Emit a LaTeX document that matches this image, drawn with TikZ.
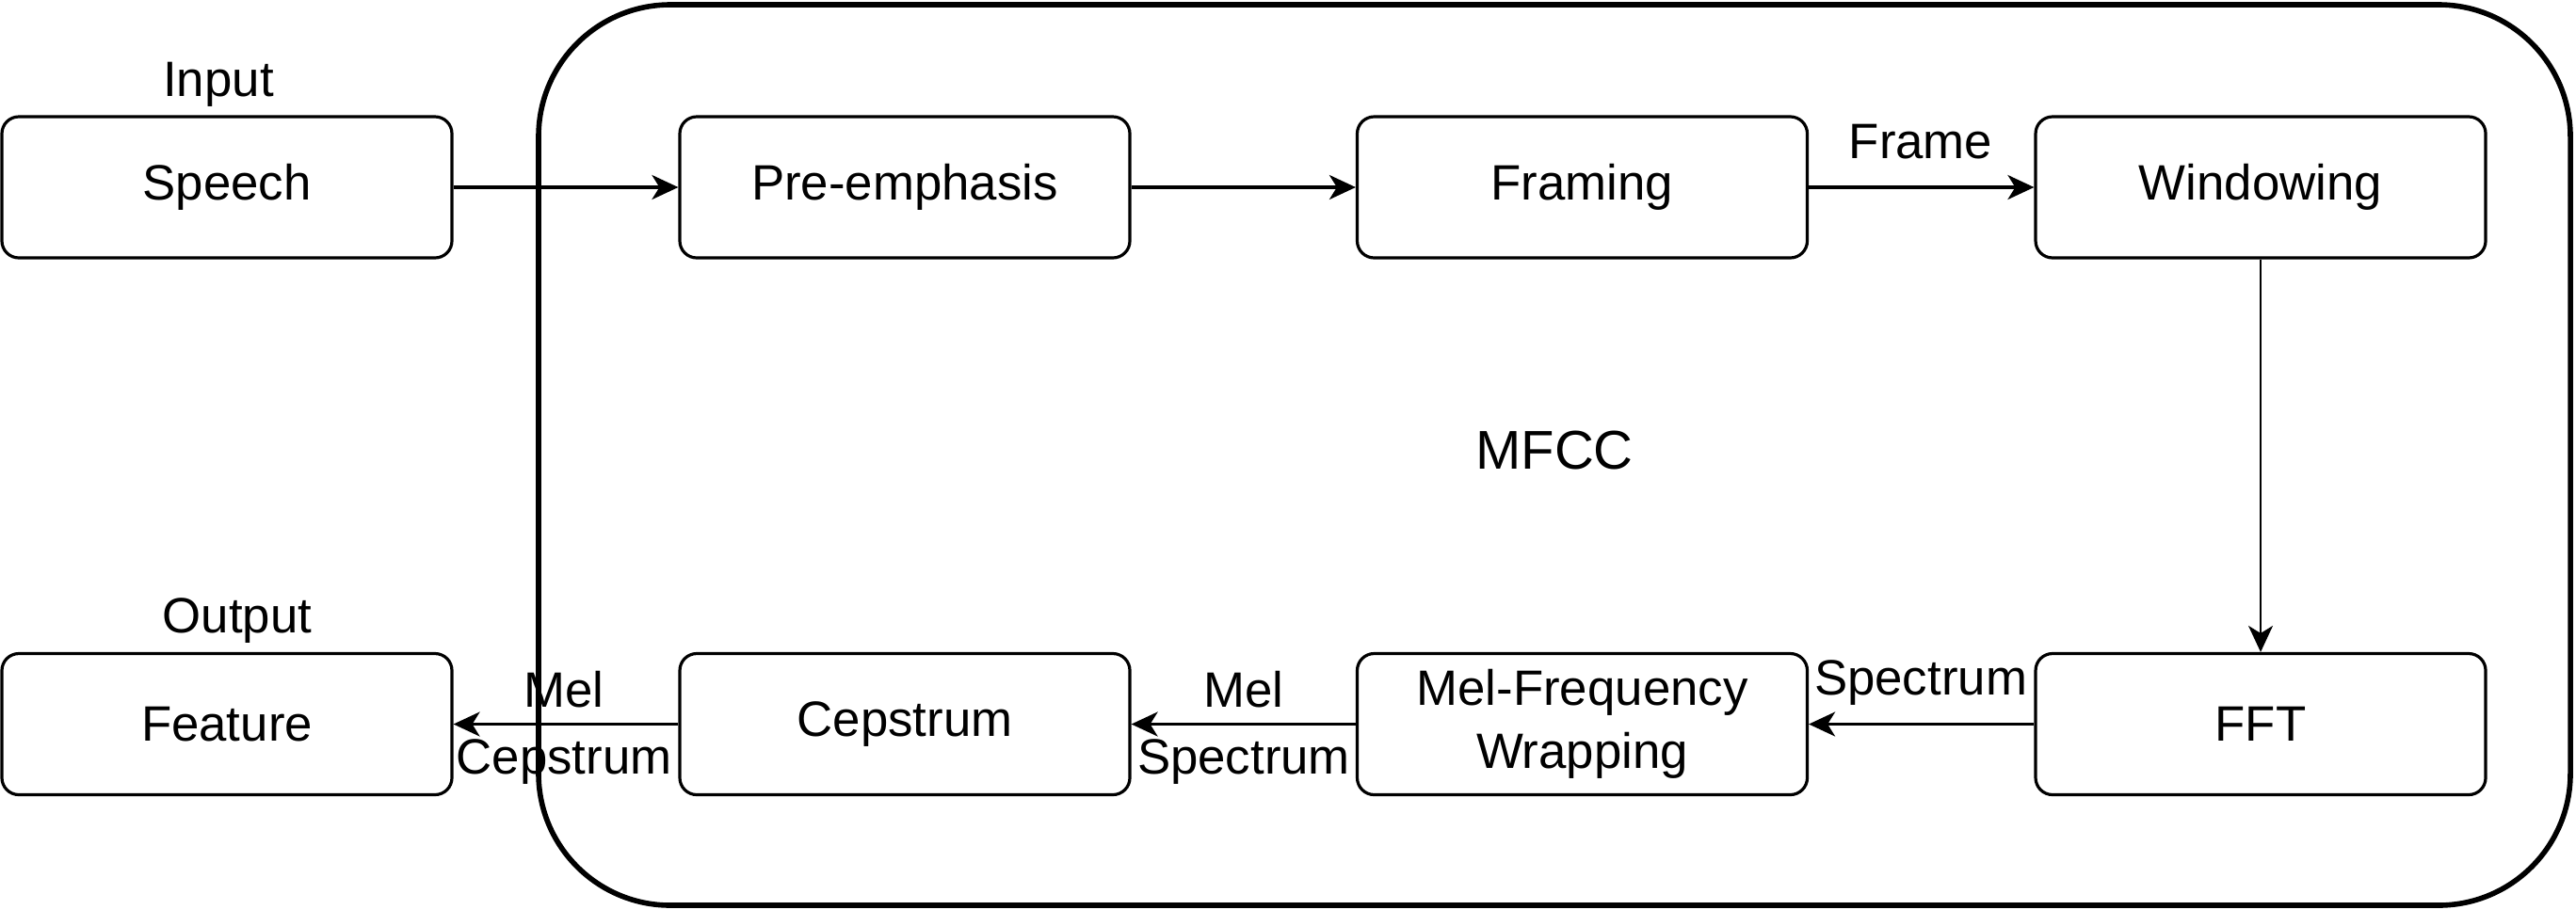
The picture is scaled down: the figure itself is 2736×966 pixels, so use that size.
\documentclass[tikz,border=0pt]{standalone}
\usepackage{fontspec}
\setmainfont{Liberation Sans}
\usetikzlibrary{arrows.meta}

\begin{document}
\begin{tikzpicture}[x=0.25pt,y=0.25pt,yscale=-1,
  stage/.style={draw, line width=0.8pt, rounded corners=4.5pt, fill=white,
    minimum width=119.5pt, minimum height=37.5pt, inner sep=0pt, align=center,
    font=\fontsize{13.2}{16.75}\selectfont},
  lbl/.style={inner sep=0pt, align=center, font=\fontsize{13.2}{17.75}\selectfont},
  flow/.style={line width=0.8pt, -{Stealth[length=7pt,width=6.5pt,inset=2pt]}}]
%set diagram size
\useasboundingbox (0,0) rectangle (2736,966);

%Shape: Rounded Rect (MFCC block)
\node [draw, line width=1.4pt, rounded corners=35pt, minimum width=539.5pt, minimum height=239.25pt,
  inner sep=0pt] (mfcc) at (1651,483.5) {};
% Text Node
\node [lbl, font=\fontsize{14.5}{17}\selectfont, anchor=base] (mfcctxt) at (1651,498) {MFCC};

%Shape: Rounded Rect
\node [stage] (speech) at (241,199) {Speech};
\node [stage] (pre) at (961,199) {Pre-emphasis};
\node [stage] (framing) at (1680.5,199) {Framing};
\node [stage] (win) at (2401,199) {Windowing};
\node [stage] (feat) at (241,769.5) {Feature};
\node [stage] (cep) at (961,769.5) {Cepstrum};
\node [stage] (melf) at (1680.5,769.5) {Mel-Frequency\\Wrapping};
\node [stage] (fft) at (2401,769.5) {FFT};

%Straight Lines
\draw [flow] (speech) -- (pre);
\draw [flow] (pre) -- (framing);
\draw [flow] (framing) -- (win);
\draw [flow, line width=0.5pt] (win) -- (fft);
\draw [flow] (fft) -- (melf);
\draw [flow] (melf) -- (cep);
\draw [flow] (cep) -- (feat);

% Text Node
\node [lbl, anchor=base] (input) at (232,102) {Input};
% Text Node
\node [lbl, anchor=base] (output) at (252,672) {Output};
% Text Node
\node [lbl, anchor=base] (frame) at (2040,168) {Frame};
% Text Node
\node [lbl, anchor=base] (spec) at (2040,738) {Spectrum};
% Text Node
\node [lbl] (melspec) at (1321,773) {Mel\\Spectrum};
% Text Node
\node [lbl] (melcep) at (599,773) {Mel\\Cepstrum};

\end{tikzpicture}
\end{document}
